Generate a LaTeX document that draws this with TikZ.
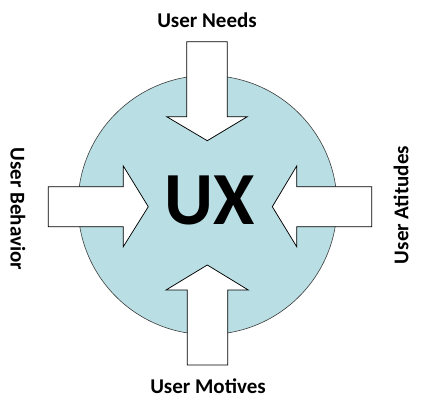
\documentclass[tikz,border=0pt]{standalone}
\usepackage{fontspec}
\setmainfont{Carlito}
\usetikzlibrary{positioning}
\definecolor{uxfill}{RGB}{185,223,228}
\definecolor{rimgray}{RGB}{60,60,60}

\tikzset{
  inarrow/.style={fill=white,draw=black,line width=0.75pt,line join=miter},
  sidelabel/.style={font=\fontsize{21}{25}\selectfont\bfseries}
}

\begin{document}
\begin{tikzpicture}[x=1pt,y=-1pt]
  \useasboundingbox (0,0) rectangle (421,406);

  % the UX circle
  \draw[rimgray,fill=uxfill,line width=0.6pt] (207.5,205) circle[radius=129.5];

  % four arrows pointing inward
  \draw[inarrow] (186.7,41.7) -- (227.3,41.7) -- (227.3,116.7) -- (247.3,116.7)
    -- (207.3,140.7) -- (166.7,116.7) -- (186.7,116.7) -- cycle;
  \draw[inarrow] (187.3,365) -- (227.7,365) -- (227.7,290) -- (248.3,290)
    -- (207.3,265) -- (166,290) -- (187.3,290) -- cycle;
  \draw[inarrow] (48.3,186.7) -- (123.3,186.7) -- (123.3,166) -- (148.3,206.7)
    -- (123.3,246.7) -- (123.3,226.7) -- (48.3,226.7) -- cycle;
  \draw[inarrow] (371.7,186.7) -- (296.7,186.7) -- (296.7,166) -- (272.3,206.7)
    -- (296.7,246.7) -- (296.7,226.7) -- (371.7,226.7) -- cycle;

  % labels
  \node[font=\fontsize{75}{80}\selectfont\bfseries] (ux) at (210,200) {UX};
  \node[sidelabel] (needs) at (207,20) {User Needs};
  \node[sidelabel] (motives) at (208,386) {User Motives};
  \node[sidelabel,rotate=-90] (behavior) at (18,209) {User Behavior};
  \node[sidelabel,rotate=90] (attitudes) at (401,205) {User Atitudes};
\end{tikzpicture}
\end{document}
